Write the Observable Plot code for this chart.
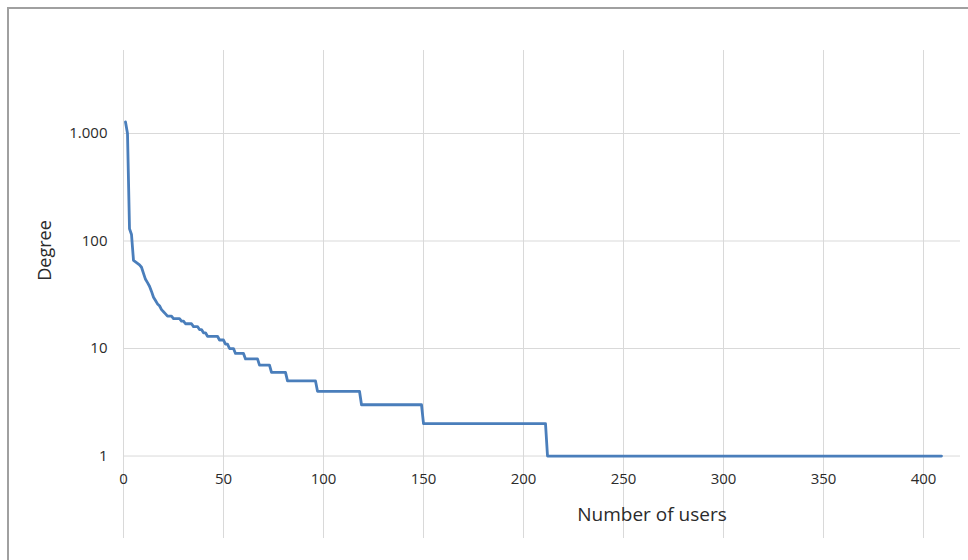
<!DOCTYPE html>
<html>
<head>
<meta charset="utf-8">
<script src="https://cdn.jsdelivr.net/npm/d3@7"></script>
<script src="https://cdn.jsdelivr.net/npm/@observablehq/plot@0.6"></script>
<style>
  body { margin: 0; background: #fff; }
  #wrap { position: relative; width: 968px; height: 560px; overflow: hidden; }
  #border { position: absolute; left: 7px; top: 7px; width: 1000px; height: 600px;
            border: 2px solid #a0a0a0; box-sizing: border-box; pointer-events: none; }
  #chart { position: absolute; left: 0; top: 0; }
</style>
</head>
<body>
<div id="wrap">
  <div id="chart"></div>
  <div id="border"></div>
</div>
<script>
// Degree distribution: users sorted by degree (descending), run-length encoded
const degree = [1280, 1000, 130, 115, 66, 64, 62, 60, 57, 50, 44, 41, 38, 34, 30, 28, 26, 25, 23, 22, 21,
                20, 19, 18, 17, 16, 15, 14, 13, 12, 11, 10, 9, 8, 7, 6, 5, 4, 3, 2, 1];
const users  = [1, 1, 1, 1, 1, 1, 1, 1, 1, 1, 1, 1, 1, 1, 1, 1, 1, 1, 1, 1, 1,
                3, 4, 2, 4, 3, 2, 2, 6, 3, 2, 3, 5, 7, 6, 8, 15, 22, 31, 62, 198];

const xTicks = [0, 50, 100, 150, 200, 250, 300, 350, 400];
const yTicks = [1, 10, 100, 1000];

// one row per user, ranked 1..N
const rows = [];
let rank = 0;
degree.forEach((d, i) => {
  for (let k = 0; k < users[i]; k++) rows.push({rank: ++rank, degree: d});
});

const fmt = d3.formatLocale({decimal: ",", thousands: ".", grouping: [3], currency: ["", ""]}).format(",");

const chart = Plot.plot({
  width: 968,
  height: 560,
  marginLeft: 123,
  marginRight: 8,
  marginTop: 50,
  marginBottom: 22,
  style: {fontFamily: "'Open Sans', sans-serif", fontSize: "15px", color: "#2b2b2b", background: "transparent"},
  x: {domain: [0, 418.5], axis: null},
  y: {type: "log", domain: [0.171, 5916], axis: null},
  marks: [
    Plot.ruleX(xTicks, {stroke: "#d9d9d9"}),
    Plot.ruleY(yTicks, {stroke: "#d9d9d9"}),
    Plot.axisY(yTicks, {tickSize: 0, tickPadding: 16, tickFormat: fmt, label: null, fontSize: 15}),
    Plot.text(xTicks, {x: d => d, y: () => 1, dy: 23, text: d => String(d), fontSize: 15}),
    Plot.line(rows, {x: "rank", y: "degree", stroke: "#4a7ebb", strokeWidth: 2.8}),
    Plot.text(["Degree"], {frameAnchor: "left", textAnchor: "middle", lineAnchor: "middle", rotate: -90, dx: -78, dy: -44, fontSize: 18}),
    Plot.text(["Number of users"], {frameAnchor: "bottom", lineAnchor: "middle", dx: 110, dy: -24, fontSize: 19})
  ]
});
document.getElementById("chart").appendChild(chart);
</script>
</body>
</html>
